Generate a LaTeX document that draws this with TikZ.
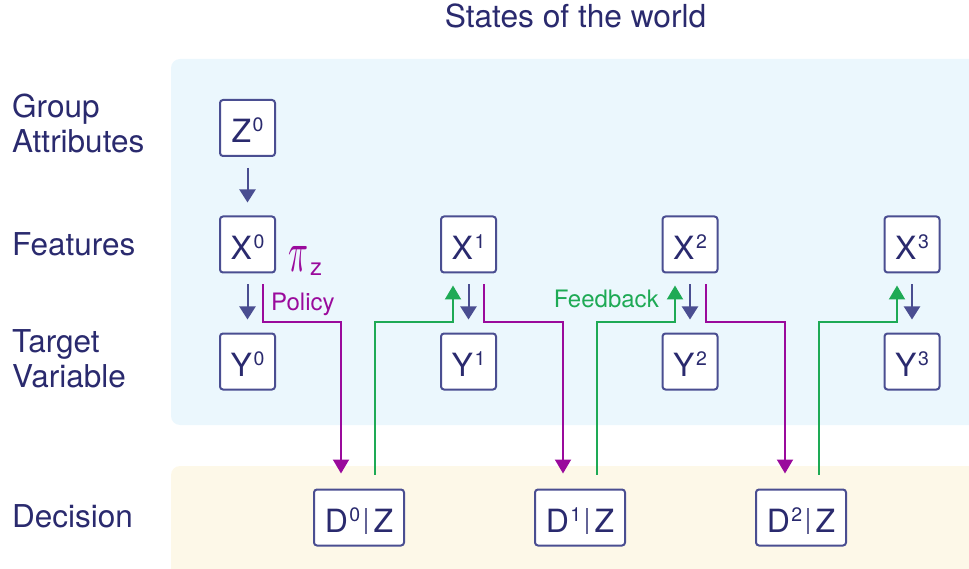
\documentclass[tikz,border=0pt]{standalone}
\usepackage{fontspec}
\setmainfont{TeX Gyre Heros}
\usetikzlibrary{arrows.meta,calc}
\definecolor{navy}{RGB}{42,42,110}
\definecolor{boxc}{RGB}{74,78,145}
\definecolor{purp}{RGB}{154,10,156}
\definecolor{grn}{RGB}{30,170,85}
\definecolor{bgblue}{RGB}{235,247,253}
\definecolor{bgyel}{RGB}{253,248,232}
\definecolor{barc}{RGB}{100,100,150}
\newcommand{\supnum}[1]{\hspace{1.5pt}\raisebox{11pt}{\fontsize{19.5}{19.5}\selectfont #1}}
\newcommand{\dz}[1]{D\supnum{#1}\hspace{5pt}{\color{barc}\rule[-1pt]{1.3pt}{26pt}}\hspace{7pt}Z}
\begin{document}
\begin{tikzpicture}[x=1pt,y=-1pt,
  varbox/.style={draw=boxc,line width=2pt,fill=white,rounded corners=3pt,
    minimum width=55pt,minimum height=56pt,inner sep=0pt,text=navy,
    font=\fontsize{32}{32}\selectfont,text height=30pt,text depth=0pt},
  decbox/.style={varbox,minimum width=90pt},
  lbl/.style={anchor=base west,inner sep=0pt,text=navy,font=\fontsize{31.5}{31.5}\selectfont},
  causal/.style={draw=boxc,line width=2pt,-{Triangle[width=16pt,length=13pt]}},
  pol/.style={draw=purp,line width=2pt,-{Triangle[width=16pt,length=14pt]}},
  fb/.style={draw=grn,line width=2pt,-{Triangle[width=16pt,length=14pt]}}]
\useasboundingbox (0,0) rectangle (969,569);
% backgrounds
\fill[bgblue,rounded corners=9pt] (171,59) rectangle (990,425);
\fill[bgyel,rounded corners=9pt] (171,466) rectangle (990,600);
% title and row labels
\node[anchor=base,inner sep=0pt,text=navy,font=\fontsize{31.7}{31.7}\selectfont] (title) at (575.5,28) {States of the world};
\node[lbl] (lg1) at (12,118) {Group};
\node[lbl] (lg2) at (12,153) {Attributes};
\node[lbl] (lf) at (12,256) {Features};
\node[lbl] (lt1) at (12,352) {Target};
\node[lbl] (lt2) at (12,387) {Variable};
\node[lbl] (ld) at (12,527) {Decision};
% variable boxes
\node[varbox] (Z0) at (247.5,128) {Z\supnum{0}};
\node[varbox] (X0) at (247.5,244.5) {X\supnum{0}};
\node[varbox] (Y0) at (247.5,361.5) {Y\supnum{0}};
\node[varbox] (X1) at (468.5,244.5) {X\supnum{1}};
\node[varbox] (Y1) at (468.5,361.5) {Y\supnum{1}};
\node[varbox] (X2) at (690,244.5) {X\supnum{2}};
\node[varbox] (Y2) at (690,361.5) {Y\supnum{2}};
\node[varbox] (X3) at (912,244.5) {X\supnum{3}};
\node[varbox] (Y3) at (912,361.5) {Y\supnum{3}};
\node[decbox] (D0) at (359,517.5) {\dz{0}};
\node[decbox] (D1) at (580,517.5) {\dz{1}};
\node[decbox] (D2) at (801,517.5) {\dz{2}};
% causal arrows
\draw[causal] ([yshift=-11pt]Z0.south) -- ([yshift=13pt]X0.north);
\draw[causal] ([yshift=-11pt]X0.south) -- ([yshift=13pt]Y0.north);
\draw[causal] ([yshift=-11pt]X1.south) -- ([yshift=13pt]Y1.north);
\draw[causal] ([yshift=-11pt]X2.south) -- ([yshift=13pt]Y2.north);
\draw[causal] ([yshift=-11pt]X3.south) -- ([yshift=13pt]Y3.north);
% policy
\draw[pol] ([xshift=15pt,yshift=-11pt]X0.south) -- ++(0,37) -| ([xshift=-18pt,yshift=15pt]D0.north);
\draw[pol] ([xshift=15.5pt,yshift=-11pt]X1.south) -- ++(0,37) -| ([xshift=-17pt,yshift=15pt]D1.north);
\draw[pol] ([xshift=16pt,yshift=-11pt]X2.south) -- ++(0,37) -| ([xshift=-16pt,yshift=15pt]D2.north);
% feedback
\draw[fb] ([xshift=16pt,yshift=14pt]D0.north) |- ($(X1.south)+(-15.5,48)$) -- ([xshift=-15.5pt,yshift=-12pt]X1.south);
\draw[fb] ([xshift=17pt,yshift=14pt]D1.north) |- ($(X2.south)+(-15,48)$) -- ([xshift=-15pt,yshift=-12pt]X2.south);
\draw[fb] ([xshift=18pt,yshift=14pt]D2.north) |- ($(X3.south)+(-15,48)$) -- ([xshift=-15pt,yshift=-12pt]X3.south);
% labels
\node[anchor=base west,inner sep=0pt,text=purp,font=\fontsize{24}{24}\selectfont] (poltxt) at (271,311) {Policy};
\node[anchor=base east,inner sep=0pt,text=grn,font=\fontsize{24}{24}\selectfont] (fbtxt) at (659,307.5) {Feedback};
\node[anchor=south west,inner sep=0pt,text=purp] (pisym) at (288,272) {\resizebox{20pt}{25pt}{$\pi$}};
\node[anchor=base west,inner sep=0pt,text=purp,font=\fontsize{24}{24}\selectfont] (pisub) at (310,276) {z};
\end{tikzpicture}
\end{document}
